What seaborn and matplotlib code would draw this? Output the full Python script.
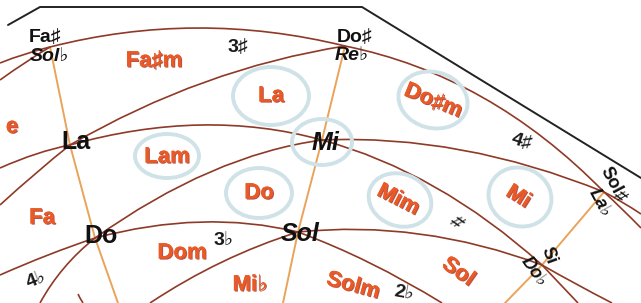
import matplotlib
matplotlib.use("Agg")
import matplotlib.pyplot as plt
import matplotlib.patheffects as pe
from matplotlib.path import Path
from matplotlib.patches import PathPatch, Ellipse
import numpy as np
import seaborn as sns

# node positions (picture pixels, y down)
nodes = {
    "FS": (50, 47), "CS": (345, 46), "GS": (604, 192),
    "A": (70, 145), "E": (322, 140), "B": (542, 265),
    "C": (95, 238), "G": (298, 232),
}

# brown arcs: start, a point half way along, end
arc_start = [(0, 63), (0, 80), "FS", "CS", "GS", "GS",
             (0, 168), (0, 205), "A", "A", "E", "E",
             (0, 275), (40, 303), "C", "C", (150, 303), "G", "G",
             "B", "B", (78, 294)]
arc_mid = [(25, 54), (26, 62), (197, 28), (482, 97), (622, 209), (622, 202),
           (36, 154), (36, 173), (205, 82), (200, 125), (462, 150), (435, 187),
           (48, 255), (64, 268), (210, 172), (200, 222), (222, 262), (420, 234), (370, 263),
           (560, 284), (576, 284), (80, 298)]
arc_end = [(50, 47), (50, 47), "CS", "GS", (641, 228), (641, 214),
           "A", "A", "CS", "E", "GS", "B",
           "C", "C", "E", "G", "G", "B", (442, 303),
           (578, 303), (612, 303), (83, 303)]

# tan lines (minor thirds)
tan_lines = [["FS", "A", "C", (118, 303)],
             ["CS", "E", "G", (283, 303)],
             ["GS", "B", (505, 303)]]

# black note names
note_text = ["Fa♯", "Sol♭", "Do♯", "Re♭", "La", "Mi", "Do", "Sol",
             "Sol♯", "La♭", "Si", "Do♭"]
note_xy = [(45, 37), (50, 56), (355, 38), (352, 55), (76, 142), (326, 143),
           (101, 236), (300, 234), (613, 184), (600, 203), (549, 256), (534, 272)]
note_size = [14, 14, 14, 14, 18, 18, 18, 18, 13, 13, 13, 13]
note_italic = [False, True, False, True, False, True, False, True,
               False, True, False, True]
note_rot = [0, 0, 0, 0, 0, 0, 0, 0, -62, -62, -70, -55]

# red chord names
chord_text = ["Fa♯m", "La", "Do♯m", "Lam", "Do", "Mim", "Mi", "Fa",
              "Dom", "Mi♭", "Solm", "Sol", "e"]
chord_xy = [(154, 61), (271, 96), (433, 101), (167, 157), (259, 193), (398, 200),
            (518, 197), (42, 218), (182, 253), (250, 285), (353, 286), (458, 272),
            (12, 127)]
chord_rot = [0, 0, -22, 0, 0, -27, -32, 0, 0, 0, -15, -35, 0]

# light blue rings
ring_xy = [(271, 96), (433, 100), (322, 142), (167, 156), (259, 193), (400, 200), (520, 197)]
ring_w = [76, 70, 60, 64, 66, 64, 64]
ring_h = [58, 56, 46, 44, 50, 52, 58]
ring_rot = [0, -15, 0, 0, 0, -20, -25]

# key signatures
key_text = ["3♯", "4♯", "♯", "3♭", "4♭", "2♭"]
key_xy = [(238, 47), (522, 142), (456, 222), (224, 240), (36, 280), (404, 293)]
key_rot = [0, -18, -60, 0, 22, -10]

border_x = [8, 40, 362, 641]
border_y = [25, 7, 7, 178]

sns.set_theme(style="white")
plt.rcParams["font.family"] = ["Liberation Sans", "DejaVu Sans"]

fig = plt.figure(figsize=(6.41, 3.03), dpi=100)
ax = fig.add_axes([0, 0, 1, 1])
ax.set_xlim(0, 641)
ax.set_ylim(303, 0)
ax.axis("off")


def pt(p):
    return nodes[p] if isinstance(p, str) else p


brown = "#8e3a26"
tan = "#eaa35a"

for line in tan_lines:
    xy = [pt(p) for p in line]
    ax.plot([p[0] for p in xy], [p[1] for p in xy], color=tan, lw=1.4,
            solid_capstyle="round", zorder=1)

for s, m, e in zip(arc_start, arc_mid, arc_end):
    p0, p1, p2 = np.array(pt(s), float), np.array(m, float), np.array(pt(e), float)
    ctrl = 2 * p1 - (p0 + p2) / 2
    path = Path([p0, ctrl, p2], [Path.MOVETO, Path.CURVE3, Path.CURVE3])
    ax.add_patch(PathPatch(path, fc="none", ec=brown, lw=1.2, zorder=2))

ax.plot(border_x, border_y, color="#222222", lw=1.4, zorder=2)

for (x, y), w, h, r in zip(ring_xy, ring_w, ring_h, ring_rot):
    ax.add_patch(Ellipse((x, y), w, h, angle=-r, fc="none", ec="#cfe2e8",
                         lw=2.8, zorder=3))

red_fx = [pe.withSimplePatchShadow(offset=(0.8, -0.8), shadow_rgbFace="#a3281a", alpha=0.8),
          pe.Normal()]
for t, (x, y), r in zip(chord_text, chord_xy, chord_rot):
    ax.text(x, y, t, color="#ea5a26", fontsize=16, fontweight="bold",
            family=["Liberation Sans Narrow", "Liberation Sans", "DejaVu Sans"],
            ha="center", va="center", rotation=r, rotation_mode="anchor",
            path_effects=red_fx, zorder=4)

for t, (x, y), r in zip(key_text, key_xy, key_rot):
    ax.text(x, y, t, color="#1a1a1a", fontsize=14, fontweight="bold",
            ha="center", va="center", rotation=r, rotation_mode="anchor", zorder=4)

for t, (x, y), s, it, r in zip(note_text, note_xy, note_size, note_italic, note_rot):
    ax.text(x, y, t, color="#111111", fontsize=s, fontweight="bold",
            style="italic" if it else "normal",
            ha="center", va="center", rotation=r, rotation_mode="anchor", zorder=5)

fig.savefig("out.png", dpi=100)
